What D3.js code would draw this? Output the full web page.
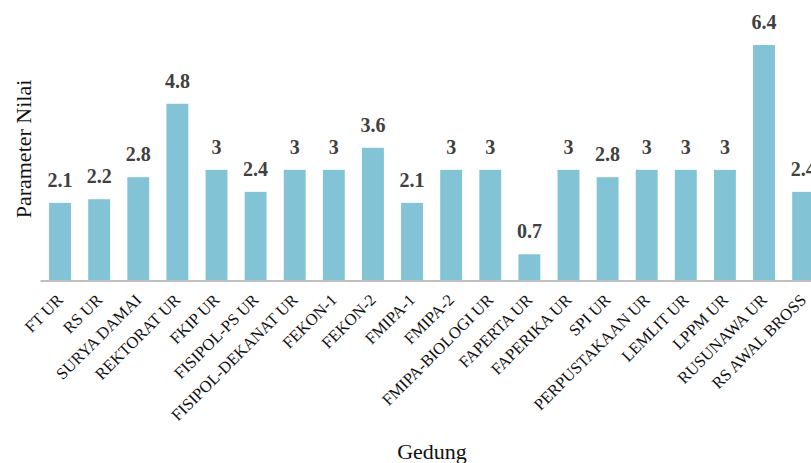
<!DOCTYPE html>
<html lang="en">
<head>
  <meta charset="UTF-8">
  <title>Parameter Nilai per Gedung</title>
  <script src="https://d3js.org/d3.v7.min.js"></script>
  <style>
    body {
      margin: 0;
      padding: 0;
      background: #fff;
      overflow: hidden;
    }
    svg text {
      font-family: "Liberation Serif", "DejaVu Serif", serif;
    }
  </style>
</head>
<body>
  <div id="chart"></div>

  <script>
    const buildings = [
      "FT UR", "RS UR", "SURYA DAMAI", "REKTORAT UR", "FKIP UR",
      "FISIPOL-PS UR", "FISIPOL-DEKANAT UR", "FEKON-1", "FEKON-2", "FMIPA-1",
      "FMIPA-2", "FMIPA-BIOLOGI UR", "FAPERTA UR", "FAPERIKA UR", "SPI UR",
      "PERPUSTAKAAN UR", "LEMLIT UR", "LPPM UR", "RUSUNAWA UR", "RS AWAL BROSS"
    ];
    const values = [2.1, 2.2, 2.8, 4.8, 3, 2.4, 3, 3, 3.6, 2.1, 3, 3, 0.7, 3, 2.8, 3, 3, 3, 6.4, 2.4];

    const data = buildings.map((b, i) => ({ name: b, value: values[i] }));

    const width = 811;
    const height = 463;
    const baseY = 280;

    const svg = d3.select("#chart")
                  .append("svg")
                  .attr("width", width)
                  .attr("height", height)
                  .style("display", "block");

    // chart runs past the right edge, like the source image
    const x = d3.scaleBand()
                .domain(buildings)
                .range([40.5, 822.7])
                .paddingInner(0.44)
                .paddingOuter(0.22);

    const y = d3.scaleLinear()
                .domain([0, 6.4])
                .range([baseY, 45]);

    svg.selectAll("rect.bar")
       .data(data)
       .enter()
       .append("rect")
       .attr("class", "bar")
       .attr("x", d => x(d.name))
       .attr("y", d => y(d.value))
       .attr("width", x.bandwidth())
       .attr("height", d => baseY - y(d.value))
       .attr("fill", "#82c4d6");

    // baseline
    svg.append("line")
       .attr("x1", 40.5)
       .attr("x2", 822.7)
       .attr("y1", baseY + 1)
       .attr("y2", baseY + 1)
       .attr("stroke", "#bfbfbf")
       .attr("stroke-width", 2);

    // value labels
    svg.selectAll("text.val")
       .data(data)
       .enter()
       .append("text")
       .attr("class", "val")
       .attr("x", d => x(d.name) + x.bandwidth() / 2)
       .attr("y", d => y(d.value) - 16)
       .attr("text-anchor", "middle")
       .style("font-family", "'Liberation Serif', 'Times New Roman', serif")
       .style("font-size", "20px")
       .style("font-weight", "700")
       .attr("fill", "#404040")
       .text(d => d.value);

    // category labels, rotated
    svg.selectAll("text.cat")
       .data(buildings)
       .enter()
       .append("text")
       .attr("class", "cat")
       .attr("transform", d => `translate(${x(d) + x.bandwidth() / 2 + 4},${baseY + 21}) rotate(-45)`)
       .attr("text-anchor", "end")
       .attr("font-size", 16.5)
       .attr("fill", "#111")
       .text(d => d);

    svg.append("text")
       .attr("x", 432)
       .attr("y", 459)
       .attr("text-anchor", "middle")
       .attr("font-size", 22)
       .attr("fill", "#111")
       .text("Gedung");

    svg.append("text")
       .attr("transform", "translate(31,149) rotate(-90)")
       .attr("text-anchor", "middle")
       .attr("font-size", 22)
       .attr("fill", "#111")
       .text("Parameter Nilai");
  </script>
</body>
</html>
